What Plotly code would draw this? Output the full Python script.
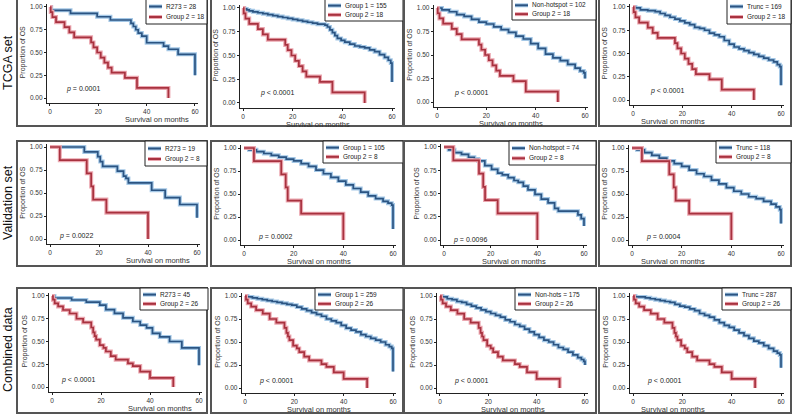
import plotly.graph_objects as go

W, H = 792, 415

ROW_LABELS = ["TCGA set", "Validation set", "Combined data"]
GROUP1_LABELS = [
    ["R273 = 28", "Group 1 = 155", "Non-hotspot = 102", "Trunc = 169"],
    ["R273 = 19", "Group 1 = 105", "Non-hotspot = 74", "Trunc = 118"],
    ["R273 = 45", "Group 1 = 259", "Non-hots = 175", "Trunc = 287"],
]
GROUP2_LABELS = ["Group 2 = 18", "Group 2 = 8", "Group 2 = 26"]
P_LABELS = [
    ["= 0.0001", "< 0.0001", "< 0.0001", "< 0.0001"],
    ["= 0.0022", "= 0.0002", "= 0.0096", "= 0.0004"],
    ["< 0.0001", "< 0.0001", "< 0.0001", "< 0.0001"],
]
X_TICKS = [0, 20, 40, 60]
Y_TICKS = [0, 0.25, 0.5, 0.75, 1.0]
Y_TICK_TEXT = ["0.00", "0.25", "0.50", "0.75", "1.00"]

# ---- Group 2 curves (one per data set) ----
red1_t = [0, 0.3, 1, 2.5, 6, 8, 10, 17, 18, 19.5, 21, 22.5, 24, 25.5, 31, 36, 49]
red1_s = [1, .944, .889, .833, .778, .722, .667, .611, .556, .5, .444, .389, .333, .278, .222, .111, 0]
red2_t = [0, 4, 15, 16.8, 17.6, 23, 40]
red2_s = [1, .857, .714, .571, .429, .286, 0]
red3_t = [0, 0.4, 1.1, 2.5, 4.5, 7.2, 10, 12.7, 16, 16.8, 17.4, 18, 19.5, 21, 22, 24, 26, 31, 33, 36, 40, 49.5]
red3_s = [1, .96, .92, .885, .846, .808, .75, .71, .654, .60, .56, .52, .46, .43, .39, .34, .30, .26, .23, .17, .10, 0]

# ---- Row 1 (TCGA) blue curves ----
b11_t = [0, 0.5, 8.5, 19.5, 25, 33.5, 34.5, 35.5, 36.5, 38, 40, 47, 49, 53, 60]
b11_s = [1, .964, .929, .893, .857, .821, .786, .75, .714, .679, .607, .571, .536, .48, .25]
b12_t = [0, 0.5, 1.5, 2.5, 4, 6, 8, 10, 12, 14, 16, 18, 20, 22, 24, 26, 28, 30, 33, 34, 35, 36, 37, 38,
         39.5, 41, 43, 45, 47, 49, 51, 53, 55, 57, 58.5, 59.5, 60]
b12_s = [1, .99, .98, .97, .96, .95, .94, .93, .92, .91, .90, .89, .88, .87, .86, .85, .84, .83, .82, .80,
         .77, .74, .71, .68, .66, .64, .62, .60, .59, .58, .56, .54, .51, .48, .45, .42, .22]
b13_t = [0, 2, 5, 8, 11, 14, 17, 20, 23, 26, 29, 32, 35, 38, 41, 44, 47, 50, 53, 56, 58, 59.5, 60]
b13_s = [1, .98, .96, .93, .91, .88, .85, .83, .80, .77, .74, .70, .67, .62, .57, .51, .47, .44, .40, .36, .33, .31, .25]
b14_t = [0, 1, 3, 6, 9, 11, 13, 15, 17, 19, 21, 23, 25, 27, 29, 31, 33, 35, 37, 39, 41, 43, 45, 47, 49,
         51, 53, 55, 57, 58.5, 59.5, 60]
b14_s = [1, .99, .97, .96, .95, .93, .91, .89, .87, .85, .83, .81, .78, .77, .75, .72, .70, .68, .64, .60,
         .57, .55, .53, .51, .49, .47, .45, .43, .41, .38, .36, .16]

# ---- Row 2 (Validation) blue curves ----
b21_t = [0, 14, 19.5, 20.5, 21.5, 27.5, 30, 31, 32, 41.5, 47, 53, 60]
b21_s = [1, .947, .895, .842, .789, .737, .684, .658, .61, .53, .45, .375, .23]
b22_t = [0, 2, 5, 8, 11, 14, 17, 20, 23, 26, 29, 32, 35, 38, 41, 44, 47, 50, 53, 56, 58, 59.5, 60]
b22_s = [1, .98, .96, .94, .92, .90, .88, .86, .83, .80, .76, .72, .68, .64, .60, .56, .52, .48, .45, .42, .40, .38, .12]
b23_t = [0, 2, 4.5, 7.5, 10.5, 13, 14.7, 17.5, 20.4, 23, 25, 27.5, 30, 31.8, 34, 36, 39, 41.7, 44.6,
         47.4, 49, 57.4, 58.8, 60]
b23_s = [1, .97, .94, .92, .89, .87, .85, .80, .76, .72, .70, .67, .64, .62, .58, .54, .49, .44, .40,
         .34, .31, .27, .23, .15]
b24_t = [0, 2, 5, 8, 11, 14, 17, 20, 23, 26, 29, 32, 35, 38, 41, 44, 47, 50, 53, 56, 58, 59.5, 60]
b24_s = [1, .98, .95, .92, .89, .86, .83, .80, .76, .72, .69, .65, .61, .57, .53, .50, .47, .45, .42, .39, .36, .33, .18]

# ---- Row 3 (Combined) blue curves ----
b31_t = [0, 1, 8, 14, 19.5, 22, 25.5, 29, 33, 36, 38.6, 41, 44, 48, 53, 60]
b31_s = [1, .978, .956, .933, .90, .85, .81, .76, .72, .68, .65, .59, .55, .50, .43, .24]
b32_t = [0, 1, 3, 5, 7, 9, 11, 13, 15, 17, 19, 21, 23, 25, 27, 29, 31, 33, 35, 37, 39, 41, 43, 45, 47,
         49, 51, 53, 55, 57, 58.5, 59.5, 60]
b32_s = [1, .99, .98, .97, .96, .95, .94, .93, .92, .91, .90, .88, .86, .84, .82, .80, .78, .75, .73,
         .71, .68, .65, .63, .61, .58, .56, .54, .52, .50, .47, .45, .43, .18]
b33_t = b32_t
b33_s = [1, .99, .97, .96, .94, .93, .91, .89, .87, .85, .83, .81, .79, .77, .74, .72, .69, .67, .64,
         .61, .58, .55, .52, .50, .47, .44, .42, .39, .36, .33, .31, .29, .25]
b34_t = b32_t
b34_s = [1, .99, .99, .98, .97, .96, .95, .94, .93, .91, .89, .88, .86, .84, .81, .79, .77, .74, .71,
         .68, .66, .63, .60, .57, .54, .51, .49, .46, .43, .40, .38, .36, .22]

BLUE = [[(b11_t, b11_s), (b12_t, b12_s), (b13_t, b13_s), (b14_t, b14_s)],
        [(b21_t, b21_s), (b22_t, b22_s), (b23_t, b23_s), (b24_t, b24_s)],
        [(b31_t, b31_s), (b32_t, b32_s), (b33_t, b33_s), (b34_t, b34_s)]]
RED = [(red1_t, red1_s), (red2_t, red2_s), (red3_t, red3_s)]

# ---- geometry (pixels) ----
# (x pixel of t=0, x pixel of t=60, y pixel of 1.00, y pixel of 0.00)
AX = [
    [(50, 195, 7, 98), (243, 392, 8, 103), (437, 585, 8, 102), (633, 781, 7, 100)],
    [(50, 197, 147, 239), (244, 393, 148, 240), (444, 584, 147, 240), (632, 781, 148, 240)],
    [(52, 199, 296, 387), (245, 393, 296, 388), (440, 585, 296, 388), (633, 781, 296, 388)],
]
BOX_X = [(17, 207), (211, 403), (404, 596), (599, 791)]
BOX_Y = [(-1, 126), (141, 266), (288, 413)]
LEG = [
    [(146, 207, -1, 24), (325, 403, -1, 21), (512, 596, -1, 20), (727, 791, -1, 24)],
    [(145, 207, 141, 166), (323, 403, 141, 163), (509, 596, 141, 165), (716, 791, 141, 163)],
    [(140, 208, 288, 310), (315, 403, 288, 310), (515, 596, 288, 310), (722, 791, 288, 310)],
]
P_POS = [[(6, 0.10), (6, 0.10), (6, 0.10), (6, 0.10)],
         [(3, 0.03), (5, 0.03), (3, 0.0), (5, 0.03)],
         [(3, 0.08), (5, 0.08), (5, 0.08), (5, 0.08)]]

BLUE_C, BLUE_H = "#2B5482", "#A5C8E6"
RED_C, RED_H = "#A8323F", "#EBA7B0"
FONT = "Arial, Liberation Sans, sans-serif"

def px(x):
    return x / W

def py(y):
    return 1 - y / H

XR = (-1.3, 61.3)
YR = (-0.055, 1.035)

fig = go.Figure()
shapes = []
annotations = []

for r in range(3):
    for c in range(4):
        k = r * 4 + c + 1
        xs = "" if k == 1 else str(k)
        x0, x60, y1, y0 = AX[r][c]
        sx = (x60 - x0) / 60.0
        sy = (y0 - y1)
        dl = x0 + XR[0] * sx
        dr = x0 + XR[1] * sx
        db = y0 - YR[0] * sy
        dt = y0 - YR[1] * sy
        axis_common = dict(showline=True, linecolor="#222", linewidth=1, ticks="outside",
                           ticklen=2, tickwidth=1, tickcolor="#222", showgrid=False, zeroline=False,
                           tickfont=dict(size=6.5, color="#333", family=FONT))
        fig.layout["xaxis" + xs] = dict(domain=[px(dl), px(dr)], range=list(XR), anchor="y" + xs,
                                        tickvals=X_TICKS, **axis_common)
        fig.layout["yaxis" + xs] = dict(domain=[py(db), py(dt)], range=list(YR), anchor="x" + xs,
                                        tickvals=Y_TICKS, ticktext=Y_TICK_TEXT, **axis_common)
        bt, bs = BLUE[r][c]
        rt, rs = RED[r]
        for (t, s, col, halo) in [(bt, bs, BLUE_C, BLUE_H), (rt, rs, RED_C, RED_H)]:
            fig.add_trace(go.Scatter(x=t, y=s, mode="lines", line=dict(color=halo, width=4.0, shape="hv"),
                                     xaxis="x" + xs, yaxis="y" + xs, showlegend=False, hoverinfo="skip"))
            fig.add_trace(go.Scatter(x=t, y=s, mode="lines", line=dict(color=col, width=1.7, shape="hv"),
                                     xaxis="x" + xs, yaxis="y" + xs, showlegend=False))
        # panel frame
        bx0, bx1 = BOX_X[c]
        by0, by1 = BOX_Y[r]
        shapes.append(dict(type="rect", xref="paper", yref="paper", x0=px(bx0), x1=px(bx1),
                           y0=py(by1), y1=py(by0), line=dict(color="#555", width=2)))
        # axis titles
        annotations.append(dict(text="Survival on months", xref="paper", yref="paper",
                                x=px((x0 + x60) / 2), y=py(db + 16), showarrow=False,
                                font=dict(size=7.5, color="#333", family=FONT), yanchor="middle"))
        annotations.append(dict(text="Proportion of OS", xref="paper", yref="paper",
                                x=px(dl - 24), y=py((y0 + y1) / 2), showarrow=False, textangle=-90,
                                font=dict(size=7, color="#333", family=FONT), xanchor="center",
                                yanchor="middle"))
        # p-value
        pt, pv = P_POS[r][c]
        annotations.append(dict(text="<i>p</i> " + P_LABELS[r][c], xref="x" + xs, yref="y" + xs,
                                x=pt, y=pv, showarrow=False, xanchor="left",
                                font=dict(size=7, color="#222", family=FONT)))
        # legend
        lx0, lx1, ly0, ly1 = LEG[r][c]
        shapes.append(dict(type="rect", xref="paper", yref="paper", x0=px(lx0), x1=px(lx1),
                           y0=py(ly1), y1=py(ly0), line=dict(color="#222", width=1), fillcolor="white"))
        hh = ly1 - ly0
        rows_y = [ly0 + hh * 0.3, ly0 + hh * 0.72]
        for (yy, col, halo, lab) in [(rows_y[0], BLUE_C, BLUE_H, GROUP1_LABELS[r][c]),
                                     (rows_y[1], RED_C, RED_H, GROUP2_LABELS[r])]:
            shapes.append(dict(type="line", xref="paper", yref="paper", x0=px(lx0 + 3), x1=px(lx0 + 16),
                               y0=py(yy), y1=py(yy), line=dict(color=halo, width=4)))
            shapes.append(dict(type="line", xref="paper", yref="paper", x0=px(lx0 + 3), x1=px(lx0 + 16),
                               y0=py(yy), y1=py(yy), line=dict(color=col, width=2)))
            annotations.append(dict(text=lab, xref="paper", yref="paper", x=px(lx0 + 18), y=py(yy),
                                    showarrow=False, xanchor="left", yanchor="middle",
                                    font=dict(size=6.5, color="#222", family=FONT)))

ROW_Y = [63, 203, 350]
for r in range(3):
    annotations.append(dict(text=ROW_LABELS[r], xref="paper", yref="paper", x=px(8), y=py(ROW_Y[r]),
                            showarrow=False, textangle=-90, xanchor="center", yanchor="middle",
                            font=dict(size=12.5, color="#111", family=FONT)))

fig.update_layout(width=W, height=H, margin=dict(l=0, r=0, t=0, b=0), paper_bgcolor="white",
                  plot_bgcolor="white", showlegend=False, shapes=shapes, annotations=annotations)
fig.write_html("out.html", config={"displayModeBar": False},
               post_script="document.body.style.margin='0';document.body.style.overflow='hidden';")
